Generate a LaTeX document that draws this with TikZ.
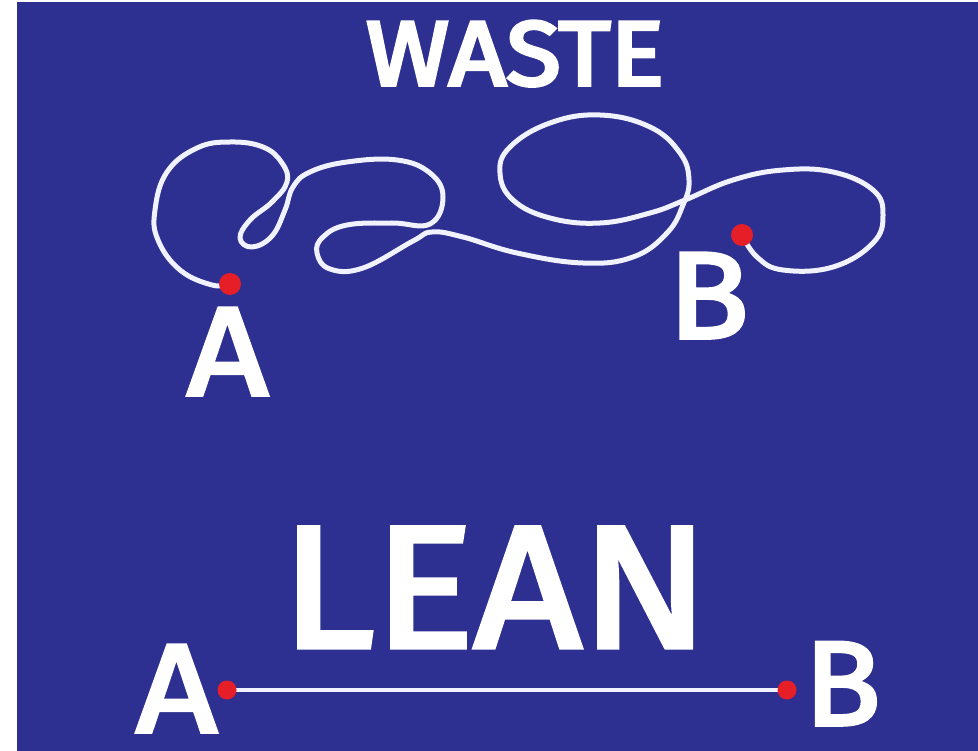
\documentclass[tikz,border=0pt]{standalone}
\usepackage{graphicx}
\usepackage{fontspec}
\setmainfont{Fira Sans}
\newfontfamily\medfont[FakeBold=3]{Fira Sans}
\newfontfamily\heavyfont[FakeBold=4]{Fira Sans}
\definecolor{bgblue}{RGB}{45,47,145}
\definecolor{dotred}{RGB}{230,30,40}
\definecolor{strand}{RGB}{240,242,255}
\tikzset{
  lbl/.style={text=white, inner sep=0pt, anchor=base west},
  reddot/.style={circle, fill=dotred, inner sep=0pt, minimum size=#1},
  wire/.style={draw=strand, line width=5pt, line cap=round, line join=round}
}
\begin{document}
\begin{tikzpicture}[x=1pt, y=-1pt]
\useasboundingbox (0,0) rectangle (978,751);
\fill[white] (0,0) rectangle (978,751);
\fill[bgblue] (17,2) rectangle (978,751);

% titles
\node[lbl] (waste) at (366,85) {\scalebox{1.1}[1]{\heavyfont\fontsize{91}{96}\selectfont WASTE}};
\node[lbl] (lean) at (281,647) {\scalebox{1.08}[1]{\medfont\fontsize{173}{180}\selectfont LEAN}};

% top points
\coordinate (pA) at (230,284);
\coordinate (pB) at (742,235);
\draw[wire] plot[smooth, tension=0.7] coordinates {
 (pA) (212,285) (180,270) (158,240) (155,210) (167,172) (197,148) (230,142)
 (263,147) (282,163) (287,182) (272,202) (250,220) (240,238) (252,247)
 (272,236) (285,210) (293,187) (310,172) (347,162) (397,160) (430,173)
 (443,197) (430,224) (392,223) (347,225) (323,237) (317,253) (330,269)
 (363,268) (413,241) (432,232) (463,237) (517,253) (583,263) (633,257)
 (667,233) (683,205) (689,180) (680,153) (650,127) (600,115) (550,123)
 (510,147) (500,173) (513,200) (550,218) (600,223) (650,213) (685,200)
 (733,180) (783,170) (833,172) (873,190) (883,215) (873,243) (833,267)
 (783,270) (757,257) (pB)};
\node[reddot=22pt] (dotA) at (pA) {};
\node[reddot=22pt] (dotB) at (pB) {};
\node[lbl] (labA) at (187,395) {\scalebox{1.12}[1]{\medfont\fontsize{126}{130}\selectfont A}};
\node[lbl] (labB) at (668,338) {\scalebox{1.08}[1]{\medfont\fontsize{123}{126}\selectfont B}};

% bottom line
\coordinate (qA) at (227,690);
\coordinate (qB) at (787,690);
\draw[draw=strand, line width=4.5pt] (qA) -- (qB);
\node[reddot=19pt] (dotA2) at (qA) {};
\node[reddot=19pt] (dotB2) at (qB) {};
\node[lbl] (labA2) at (136,732) {\scalebox{1.12}[1]{\medfont\fontsize{126}{130}\selectfont A}};
\node[lbl] (labB2) at (804,725) {\scalebox{1.05}[1]{\medfont\fontsize{120}{124}\selectfont B}};
\end{tikzpicture}
\end{document}
